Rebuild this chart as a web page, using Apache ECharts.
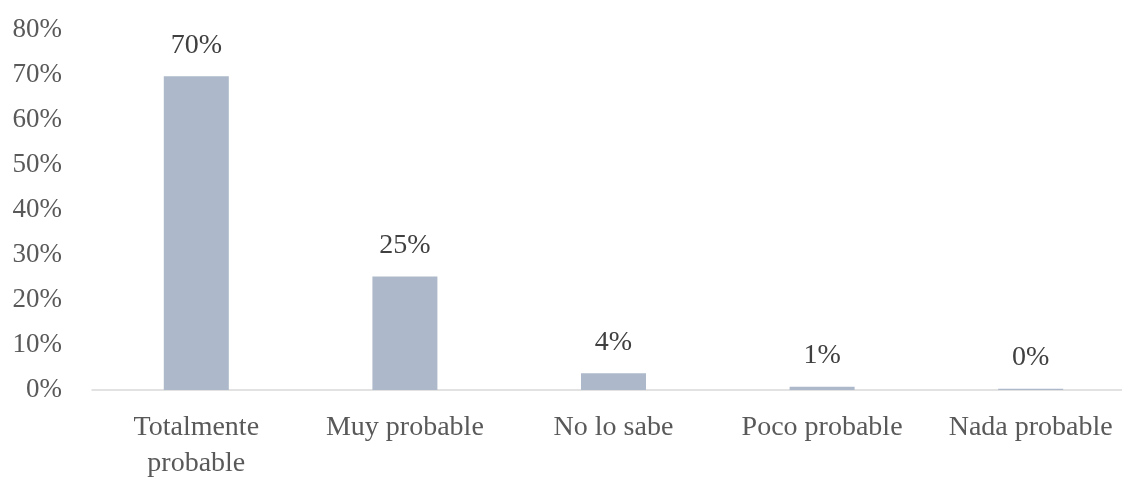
<!DOCTYPE html>
<html>
<head>
<meta charset="utf-8">
<script src="https://cdn.jsdelivr.net/npm/echarts@6/dist/echarts.min.js"></script>
<style>html,body{margin:0;padding:0;background:#fff;overflow:hidden;}#c{width:1122px;height:481px;}</style>
</head>
<body>
<div id="c"></div>
<script>
var categories = ['Totalmente\nprobable', 'Muy probable', 'No lo sabe', 'Poco probable', 'Nada probable'];
var values = [69.7, 25.2, 3.7, 0.7, 0.3];
var yTicks = { min: 0, max: 80, interval: 10 };

var font = '"Liberation Serif", "Times New Roman", serif';
var chart = echarts.init(document.getElementById('c'));
chart.setOption({
  animation: false,
  grid: { left: 92, right: -13, top: 30, bottom: 91, containLabel: false, outerBoundsMode: 'none' },
  xAxis: {
    type: 'category',
    data: categories,
    axisLine: { lineStyle: { color: '#d9d9d9', width: 1.5 } },
    axisTick: { show: false },
    axisLabel: { color: '#595959', fontFamily: font, fontSize: 28, lineHeight: 36, margin: 20, interval: 0 }
  },
  yAxis: {
    type: 'value',
    min: yTicks.min, max: yTicks.max, interval: yTicks.interval,
    splitLine: { show: false },
    axisLine: { show: false },
    axisTick: { show: false },
    axisLabel: { color: '#595959', fontFamily: font, fontSize: 27, margin: 30, formatter: function (v) { return v + '%'; } }
  },
  series: [{
    type: 'bar',
    data: values,
    barWidth: 65,
    itemStyle: { color: '#adb9ca' },
    label: {
      show: true, position: 'top', distance: 17,
      color: '#404040', fontFamily: font, fontSize: 28,
      formatter: function (p) { return Math.round(p.value) + '%'; }
    }
  }]
});
</script>
</body>
</html>
